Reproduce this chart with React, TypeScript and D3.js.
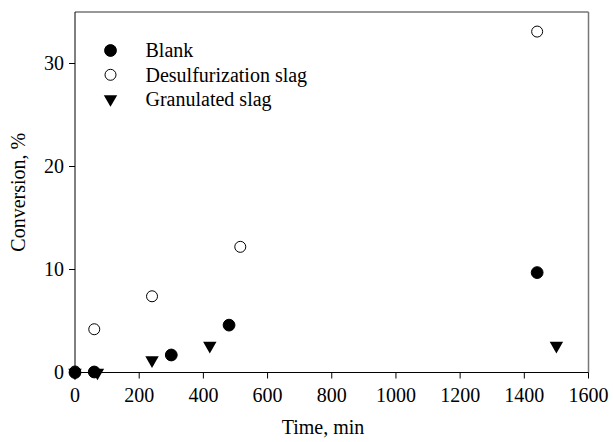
import React from "react";
import * as d3 from "d3";

// Conversion (%) versus time (min) for each sample
const blankTime = [0, 60, 300, 480, 1440];
const blankConv = [0, 0.05, 1.7, 4.6, 9.7];

const desulfTime = [0, 60, 240, 515, 1440];
const desulfConv = [0.1, 4.2, 7.4, 12.2, 33.1];

const granTime = [0, 70, 240, 420, 1500];
const granConv = [0, 0, 1.2, 2.6, 2.6];

const xTicks = [0, 200, 400, 600, 800, 1000, 1200, 1400, 1600];
const yTicks = [0, 10, 20, 30];

const seriesNames = ["Blank", "Desulfurization slag", "Granulated slag"];

const W = 613;
const H = 442;
const left = 75;
const right = 588.5;
const top = 12;
const bottom = 372.5;

const FONT = "'Liberation Serif', 'Times New Roman', serif";
const FS = 20;

type Kind = "filled" | "open" | "tri";

function Marker({ x, y, kind }: { x: number; y: number; kind: Kind }) {
  if (kind === "tri") {
    const path = d3.symbol(d3.symbolTriangle, 78)();
    return (
      <path
        d={path || ""}
        transform={`translate(${x},${y}) rotate(180)`}
        fill="#000"
      />
    );
  }
  return (
    <circle
      cx={x}
      cy={y}
      r={kind === "filled" ? 5.9 : 5.5}
      fill={kind === "filled" ? "#000" : "#fff"}
      stroke="#000"
      strokeWidth={1}
    />
  );
}

export default function App() {
  const x = d3.scaleLinear().domain([0, 1600]).range([left, right]);
  const y = d3.scaleLinear().domain([0, 35]).range([bottom, top]);

  const series: { t: number[]; v: number[]; kind: Kind }[] = [
    { t: desulfTime, v: desulfConv, kind: "open" },
    { t: blankTime, v: blankConv, kind: "filled" },
    { t: granTime, v: granConv, kind: "tri" },
  ];
  const legendKinds: Kind[] = ["filled", "open", "tri"];

  return (
    <svg
      width={W}
      height={H}
      style={{ position: "absolute", left: 0, top: 0, background: "#fff" }}
      fontFamily={FONT}
    >
      <rect x={0} y={0} width={W} height={H} fill="#fff" />
      {/* frame */}
      <line x1={left} y1={top} x2={right} y2={top} stroke="#333" strokeWidth={1} />
      <line x1={right} y1={top} x2={right} y2={bottom} stroke="#777" strokeWidth={1.5} />
      <line x1={left} y1={top} x2={left} y2={bottom} stroke="#000" strokeWidth={1} />
      <line x1={left} y1={bottom} x2={right} y2={bottom} stroke="#000" strokeWidth={1} />

      {/* x axis */}
      {xTicks.map((t) => (
        <g key={`x${t}`}>
          <line x1={x(t)} y1={bottom} x2={x(t)} y2={bottom + 6} stroke="#000" />
          <text x={x(t)} y={bottom + 29.5} textAnchor="middle" fontSize={FS} fill="#000">
            {t}
          </text>
        </g>
      ))}
      {/* y axis */}
      {yTicks.map((t) => (
        <g key={`y${t}`}>
          <line x1={left - 6} y1={y(t)} x2={left} y2={y(t)} stroke="#000" />
          <text x={left - 11} y={y(t) + 6.8} textAnchor="end" fontSize={FS} fill="#000">
            {t}
          </text>
        </g>
      ))}

      <text x={323} y={434} textAnchor="middle" fontSize={FS} fill="#000">
        Time, min
      </text>
      <text
        transform={`translate(25,${(top + bottom) / 2}) rotate(-90)`}
        textAnchor="middle"
        fontSize={FS}
        fill="#000"
      >
        Conversion, %
      </text>

      {/* data */}
      {series.map((s, i) => (
        <g key={`s${i}`}>
          {s.t.map((t, j) => (
            <Marker key={j} x={x(t)} y={y(s.v[j])} kind={s.kind} />
          ))}
        </g>
      ))}

      {/* legend */}
      {seriesNames.map((name, i) => (
        <g key={name}>
          <Marker x={110.5} y={50.5 + i * 24.3} kind={legendKinds[i]} />
          <text x={145.5} y={50.5 + i * 24.3 + 6.8} fontSize={FS} fill="#000">
            {name}
          </text>
        </g>
      ))}
    </svg>
  );
}
